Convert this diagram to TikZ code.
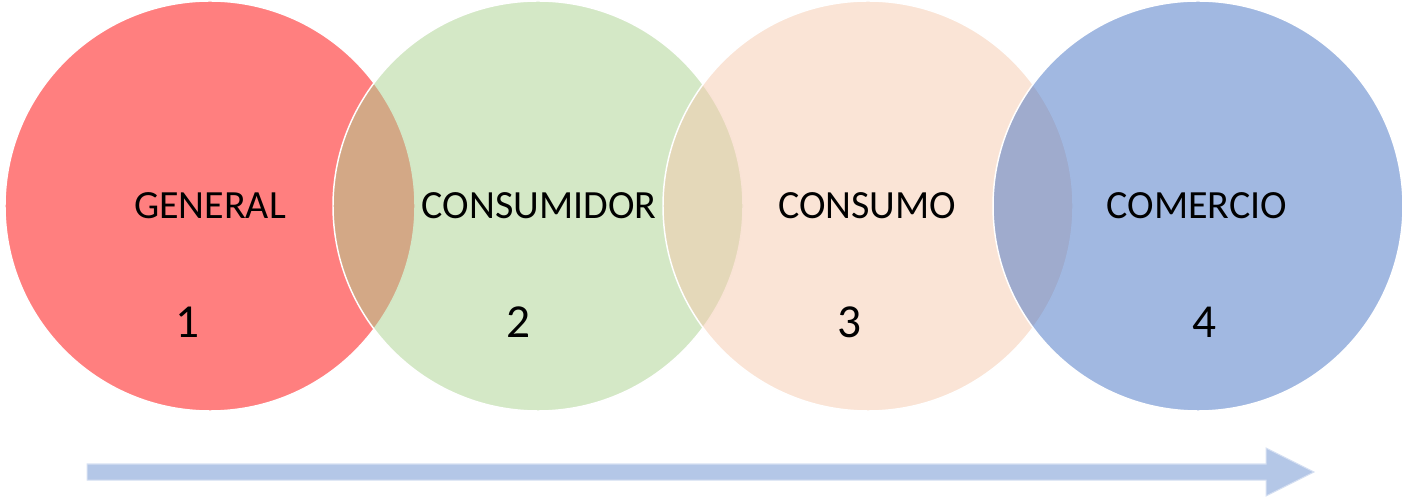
\documentclass[tikz,border=0pt]{standalone}
\usepackage{fontspec}
\setmainfont{Carlito}
\definecolor{discred}{HTML}{FF0000}
\definecolor{discgreen}{HTML}{A9D18E}
\definecolor{discorange}{HTML}{F5C9AD}
\definecolor{discblue}{HTML}{4472C4}
\definecolor{arrowfill}{HTML}{B4C7E7}
\begin{document}
\begin{tikzpicture}[x=0.75pt,y=-0.75pt,
  disc/.style={circle, minimum size=307.5pt, inner sep=0pt,
    fill=#1, fill opacity=0.5, draw=white, line width=1.1pt},
  word/.style={inner sep=0pt, font=\fontsize{30}{36}\selectfont},
  num/.style={inner sep=0pt, font=\fontsize{35.5}{42}\selectfont}]
\useasboundingbox (0,0) rectangle (1402,498);

% overlapping stages, each drawn half transparent over the previous one
\node[disc=discred]    (d1) at (210,206) {};
\node[disc=discgreen]  (d2) at (538,206) {};
\node[disc=discorange] (d3) at (868,206) {};
\node[disc=discblue]   (d4) at (1198,206) {};

% stage titles
\node[word] (t1) at (210,206) {GENERAL};
\node[word] (t2) at (539,206) {CONSUMIDOR};
\node[word] (t3) at (867,206) {CONSUMO};
\node[word] (t4) at (1197,206) {COMERCIO};

% stage numbers
\node[num] (n1) at (187,322) {1};
\node[num] (n2) at (518.5,322) {2};
\node[num] (n3) at (849,322) {3};
\node[num] (n4) at (1204.5,322) {4};

% progress arrow under the stages
\coordinate (as) at (87,472);
\coordinate (ae) at (1314,472);
\fill[arrowfill, draw=arrowfill!55!white, line width=0.75pt]
  ([yshift=6pt]as) -- ([xshift=-36pt,yshift=6pt]ae) -- ([xshift=-36pt,yshift=18pt]ae)
  -- (ae) -- ([xshift=-36pt,yshift=-18pt]ae) -- ([xshift=-36pt,yshift=-6pt]ae)
  -- ([yshift=-6pt]as) -- cycle;
\end{tikzpicture}
\end{document}
